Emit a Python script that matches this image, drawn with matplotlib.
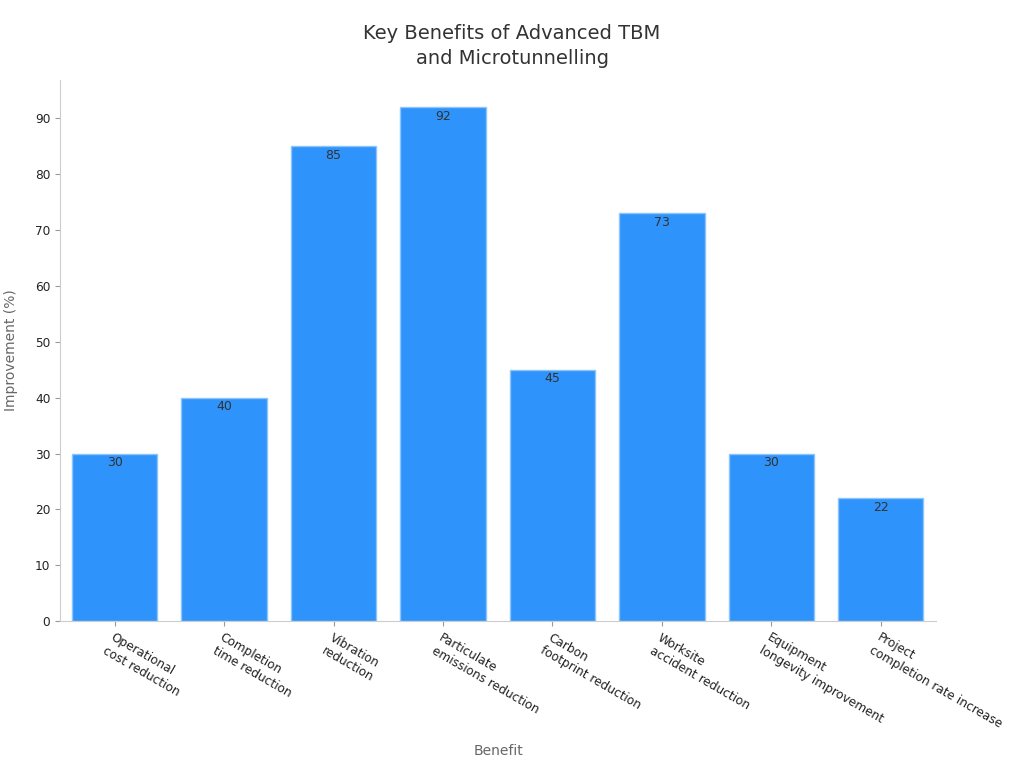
import matplotlib
matplotlib.use("Agg")
import matplotlib.pyplot as plt

categories = ["Operational\ncost reduction", "Completion\ntime reduction", "Vibration\nreduction",
              "Particulate\nemissions reduction", "Carbon\nfootprint reduction", "Worksite\naccident reduction",
              "Equipment\nlongevity improvement", "Project\ncompletion rate increase"]
values = [30, 40, 85, 92, 45, 73, 30, 22]

fig = plt.figure(figsize=(10.24, 7.68), dpi=100)
ax = fig.add_axes([0.0586, 0.191, 0.855, 0.705])
x = range(len(categories))
bars = ax.bar(x, values, width=0.78, color="#2E93FA", edgecolor="#8CC4FC", linewidth=1)
for b, v in zip(bars, values):
    ax.text(b.get_x() + b.get_width() / 2, v - 0.5, str(v), ha="center", va="top",
            fontsize=9, color="#333333")

ax.set_xlim(-0.5, len(categories) - 0.5)
ax.set_ylim(0, 96.8)
ax.set_yticks(range(0, 91, 10))
ax.set_xticks(list(x))
ax.set_xticklabels(categories, rotation=-30, ha="left", rotation_mode="anchor", fontsize=8.7, color="#222222")
ax.tick_params(axis="y", labelsize=8.7, colors="#222222")
ax.tick_params(axis="both", color="#999999")
for s in ["top", "right"]:
    ax.spines[s].set_visible(False)
for s in ["left", "bottom"]:
    ax.spines[s].set_color("#cccccc")
fig.text(0.487, 0.022, "Benefit", ha="center", va="center", fontsize=10, color="#666666")
ax.set_ylabel("Improvement (%)", fontsize=10, color="#666666", labelpad=12)
fig.text(0.5, 0.94, "Key Benefits of Advanced TBM\nand Microtunnelling", ha="center", va="center",
         fontsize=14, color="#333333", linespacing=1.4)
fig.savefig("out.png")
